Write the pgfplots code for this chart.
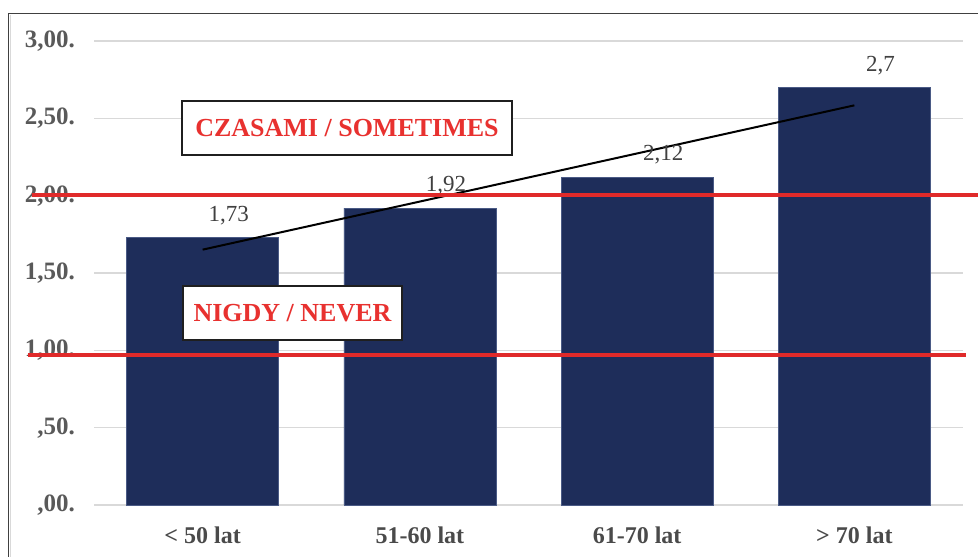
\documentclass[border=0pt]{standalone}
\usepackage{fontspec}
\setmainfont{Liberation Serif}
\usepackage{pgfplots}
\pgfplotsset{compat=1.18}
\definecolor{navy}{HTML}{1E2D5A}
\definecolor{navyedge}{HTML}{4A5A85}
\definecolor{redline}{HTML}{E02A2A}
\definecolor{redtext}{HTML}{E8312F}
\definecolor{tickgray}{HTML}{595959}
\definecolor{catgray}{HTML}{4A4A4A}
\definecolor{labgray}{HTML}{404040}
\definecolor{gridgray}{HTML}{D9D9D9}
\definecolor{framegray}{HTML}{404040}

\pgfplotstableread{
x y lab
0 1.73 1,73
1 1.92 1,92
2 2.12 2,12
3 2.70 2,7
}\agedata

\begin{document}
\begin{tikzpicture}
\useasboundingbox (0,0) rectangle (978bp,557bp);
\fill[white] (0,0) rectangle (978bp,557bp);
% outer frame (cropped)
\draw[framegray, line width=1.4bp] (8.3bp,-10bp) -- (8.3bp,543.7bp) -- (990bp,543.7bp);
\draw[gridgray, line width=1.2bp] (10.3bp,-10bp) -- (10.3bp,542bp);
\begin{axis}[
  at={(94bp,52bp)}, anchor=south west,
  scale only axis, width=869bp, height=464bp,
  xmin=-0.5, xmax=3.5, ymin=0, ymax=3,
  axis line style={draw=none},
  major tick length=0pt,
  ytick={0,0.5,1,1.5,2,2.5,3},
  yticklabels={{,00.},{,50.},{1,00.},{1,50.},{2,00.},{2,50.},{3,00.}},
  yticklabel style={font=\fontsize{25bp}{28bp}\selectfont\bfseries, text=tickgray,
    inner sep=0pt, anchor=east, xshift=-19bp},
  xtick={0,1,2,3},
  xticklabels={{< 50 lat},{51-60 lat},{61-70 lat},{> 70 lat}},
  xticklabel style={font=\fontsize{24bp}{28bp}\selectfont\bfseries, text=catgray,
    inner sep=0pt, anchor=north, yshift=-21.5bp},
  ymajorgrids, grid style={gridgray, line width=1.2bp},
  ybar, bar width=152bp,
  clip=false,
]
\addplot[fill=navy, draw=navyedge, line width=0.6bp,
  nodes near coords, point meta=explicit symbolic,
  every node near coord/.append style={anchor=center, xshift=26bp, yshift=22bp,
    font=\fontsize{23bp}{26bp}\selectfont, text=labgray}]
  table[x=x, y=y, meta=lab] {\agedata};
\coordinate (ra) at (axis cs:-0.787,2.007);
\coordinate (rb) at (axis cs:3.62,2.007);
\coordinate (rc) at (axis cs:-0.804,0.970);
\coordinate (rd) at (axis cs:3.514,0.970);
\addplot[black, line width=2bp, sharp plot, no marks, forget plot]
  coordinates {(0,1.651) (3,2.584)};
\end{axis}
\draw[redline, line width=4bp] (ra) -- (rb);
\draw[redline, line width=4bp] (rc) -- (rd);
\node[draw=black!88, line width=2bp, fill=white, minimum width=330bp, minimum height=54bp,
  inner sep=0pt, text=redtext, font=\fontsize{26bp}{30bp}\selectfont\bfseries]
  at (347bp,429bp) {CZASAMI / SOMETIMES};
\node[draw=black!88, line width=2bp, fill=white, minimum width=219bp, minimum height=54bp,
  inner sep=0pt, text=redtext, font=\fontsize{26bp}{30bp}\selectfont\bfseries]
  at (292.5bp,244bp) {NIGDY / NEVER};
\end{tikzpicture}
\end{document}
